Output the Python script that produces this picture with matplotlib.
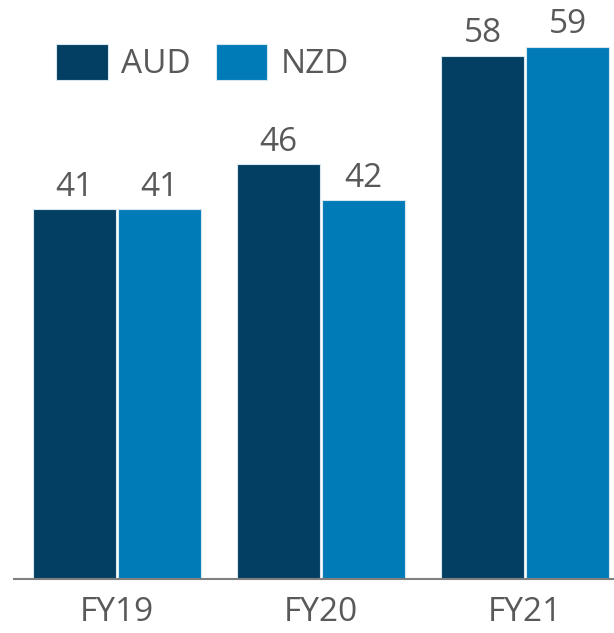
import matplotlib
matplotlib.use("Agg")
import matplotlib.pyplot as plt
import numpy as np

years = ["FY19", "FY20", "FY21"]
aud = [41, 46, 58]
nzd = [41, 42, 59]
series_names = ["AUD", "NZD"]

plt.rcParams['font.family'] = ['Open Sans', 'DejaVu Sans']
text_col = "#595959"
aud_col = "#023F63"
nzd_col = "#007BB8"

fig = plt.figure(figsize=(6.14, 6.33), dpi=100)
ax = fig.add_axes([14 / 614, (633 - 579) / 633, 1 - 14 / 614, 579 / 633])

x = np.arange(len(years))
w = 0.407
off = 0.208
b1 = ax.bar(x - off, aud, w, color=aud_col, edgecolor="#d8e6ee", linewidth=0.8, label=series_names[0])
b2 = ax.bar(x + off, nzd, w, color=nzd_col, edgecolor="#d8e6ee", linewidth=0.8, label=series_names[1])

for bars, vals in ((b1, aud), (b2, nzd)):
    for r, v in zip(bars, vals):
        ax.annotate(f"{v}", (r.get_x() + r.get_width() / 2, v), xytext=(0, 4),
                    textcoords="offset points", ha="center", va="bottom",
                    fontsize=24, color=text_col)

ax.set_xlim(-0.505, 2.436)
ax.set_ylim(0, 64.2)
ax.set_xticks(x)
ax.set_xticklabels(years, fontsize=24, color=text_col)
ax.tick_params(axis="x", length=0, pad=12)
ax.set_yticks([])
for s in ("top", "right", "left"):
    ax.spines[s].set_visible(False)
ax.spines["bottom"].set_color("#7f7f7f")
ax.spines["bottom"].set_linewidth(1.5)

leg = fig.legend(loc="upper left", bbox_to_anchor=(26 / 614, 1 - 14 / 633), ncol=2,
                 frameon=False, fontsize=24, handlelength=1.55, handleheight=1.3,
                 handletextpad=0.4, columnspacing=0.75, labelcolor=text_col)

fig.savefig("out.png", dpi=100)
